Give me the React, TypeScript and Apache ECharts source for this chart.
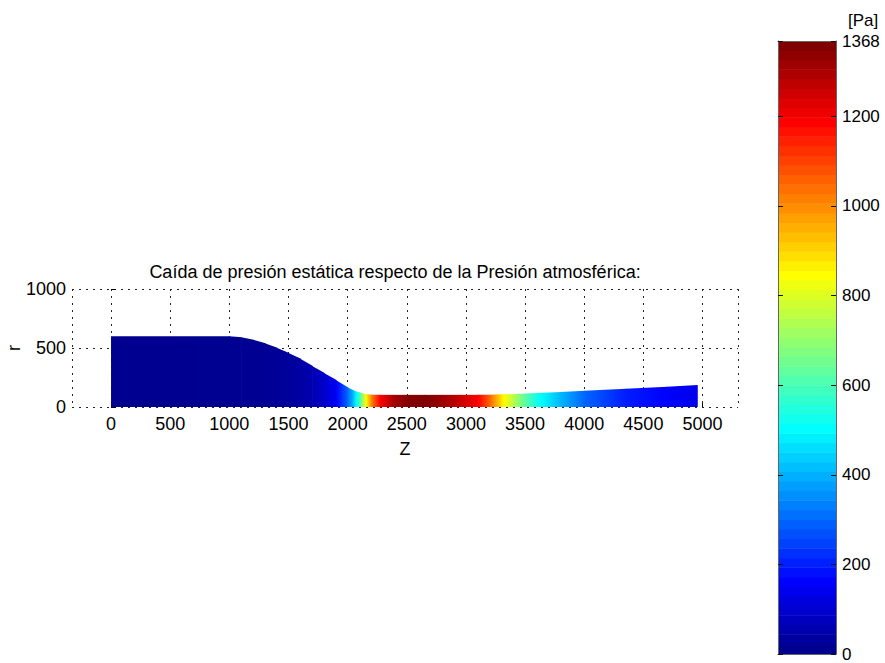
import React, { useEffect, useRef } from "react";
import * as echarts from "echarts";

// Axial stations along the duct (Z) and the wall radius r at each station
const Z_STATIONS = [
  0, 1000, 1100, 1200, 1300, 1400, 1500, 1600, 1700, 1800, 1900, 2000, 2050,
  2100, 2150, 2200, 2270, 2380, 2500, 2650, 2800, 2950, 3100, 3200, 3300,
  3450, 3600, 3800, 4000, 4350, 4700, 4960,
];
const R_PROFILE = [
  600, 600, 592, 570, 540, 503, 458, 408, 348, 288, 228, 165, 140, 122, 110,
  104, 103, 103, 103, 103, 103, 103, 103, 104, 107, 112, 119, 128, 138, 155,
  172, 186,
];
// Static pressure drop relative to atmospheric pressure [Pa] at each station
const P_DROP = [
  0, 2, 3, 5, 8, 12, 18, 28, 45, 80, 140, 300, 420, 600, 830, 1020, 1190,
  1310, 1360, 1368, 1330, 1270, 1200, 1060, 880, 680, 520, 400, 290, 190, 150,
  125,
];

const P_MAX = 1368;
const CBAR_INTERVAL = 200;
const CMAP_SIZE = 64;

const TITLE = "Caída de presión estática respecto de la Presión atmosférica:";
const UNIT_LABEL = "[Pa]";
const X_NAME = "Z";
const Y_NAME = "r";

const FONT = '"Liberation Sans", Arial, Helvetica, sans-serif';
const FS = 18;
const FS_CBAR = 17;

// MATLAB-style jet colormap evaluated at t in (0, 1]
function jetAt(t: number): string {
  const c = (x: number) => Math.max(0, Math.min(1, x));
  const r = c(1.5 - Math.abs(4 * t - 3));
  const g = c(1.5 - Math.abs(4 * t - 2));
  const b = c(1.5 - Math.abs(4 * t - 1));
  return `rgb(${Math.round(r * 255)},${Math.round(g * 255)},${Math.round(b * 255)})`;
}

// Map a pressure value onto the 64-entry jet colormap (continuous)
function pressureColor(p: number): string {
  const v = Math.max(0, Math.min(1, p / P_MAX));
  return jetAt((1 + v * (CMAP_SIZE - 1)) / CMAP_SIZE);
}

const plain = (v: number) => String(v);

export default function App() {
  const ref = useRef<HTMLDivElement>(null);

  useEffect(() => {
    if (!ref.current) return;
    const chart = echarts.init(ref.current, null, { renderer: "svg" });

    const segments = Z_STATIONS.slice(0, -1).map((z, i) => [
      z,
      Z_STATIONS[i + 1],
      R_PROFILE[i],
      R_PROFILE[i + 1],
      P_DROP[i],
      P_DROP[i + 1],
    ]);
    const nSeg = segments.length;

    const bands = Array.from({ length: CMAP_SIZE }, (_, i) => [
      (i / CMAP_SIZE) * P_MAX,
      ((i + 1) / CMAP_SIZE) * P_MAX,
      i,
    ]);

    const labelStyle = { color: "#000", fontSize: FS, fontFamily: FONT };
    const cbarLabelStyle = { color: "#000", fontSize: FS_CBAR, fontFamily: FONT, lineHeight: FS_CBAR };
    const dotted = { color: "#222", width: 1, type: [2, 5] as number[] };
    const boxLine = { show: true, onZero: false, lineStyle: { color: "#666", width: 1 } };

    const option: any = {
      animation: false,
      backgroundColor: "#fff",
      textStyle: { fontFamily: FONT },
      graphic: [
        {
          type: "text",
          x: 395,
          y: 272,
          style: {
            text: TITLE,
            fill: "#000",
            fontSize: FS,
            fontFamily: FONT,
            align: "center",
            verticalAlign: "middle",
          },
        },
        {
          type: "text",
          x: 14,
          y: 348,
          rotation: Math.PI / 2,
          style: {
            text: Y_NAME,
            fill: "#000",
            fontSize: FS,
            fontFamily: FONT,
            align: "center",
            verticalAlign: "middle",
          },
        },
        {
          type: "text",
          x: 848,
          y: 20,
          style: {
            text: UNIT_LABEL,
            fill: "#000",
            fontSize: FS_CBAR,
            fontFamily: FONT,
            align: "left",
            verticalAlign: "middle",
          },
        },
      ],
      grid: [
        { left: 72, right: 147, top: 289, height: 118, containLabel: false, outerBoundsMode: "none" },
        { left: 778, width: 58, top: 41, bottom: 9, containLabel: false, outerBoundsMode: "none" },
      ],
      xAxis: [
        {
          gridIndex: 0,
          type: "value",
          min: -330,
          max: 5300,
          splitNumber: 11,
          name: X_NAME,
          nameLocation: "middle",
          nameGap: 33,
          nameMoveOverlap: false,
          nameTextStyle: labelStyle,
          axisLine: { show: false },
          axisTick: { show: true, inside: true, length: 4, lineStyle: { color: "#000" } },
          axisLabel: {
            ...labelStyle,
            margin: 8,
            showMinLabel: false,
            showMaxLabel: false,
            formatter: plain,
          },
          splitLine: { show: true, lineStyle: dotted },
        },
        {
          gridIndex: 1,
          type: "value",
          min: 0,
          max: 1,
          position: "bottom",
          axisLine: boxLine,
          axisTick: { show: false },
          axisLabel: { show: false },
          splitLine: { show: false },
          z: 10,
        },
        {
          gridIndex: 1,
          type: "value",
          min: 0,
          max: 1,
          position: "top",
          axisLine: boxLine,
          axisTick: { show: false },
          axisLabel: { show: false },
          splitLine: { show: false },
          z: 10,
        },
      ],
      yAxis: [
        {
          gridIndex: 0,
          type: "value",
          min: 0,
          max: 1000,
          interval: 500,
          axisLine: { show: false },
          axisTick: { show: true, inside: true, length: 5, lineStyle: { color: "#000" } },
          axisLabel: { ...labelStyle, margin: 6, formatter: plain },
          splitLine: { show: true, lineStyle: dotted },
        },
        {
          gridIndex: 1,
          type: "value",
          min: 0,
          max: P_MAX,
          interval: CBAR_INTERVAL,
          position: "right",
          axisLine: boxLine,
          axisTick: { show: true, inside: true, length: 5, lineStyle: { color: "#111" } },
          axisLabel: { ...cbarLabelStyle, margin: 6, formatter: plain },
          splitLine: { show: false },
          z: 10,
        },
        {
          gridIndex: 1,
          type: "value",
          min: 0,
          max: P_MAX,
          interval: CBAR_INTERVAL,
          position: "left",
          axisLine: boxLine,
          axisTick: { show: true, inside: true, length: 5, lineStyle: { color: "#111" } },
          axisLabel: { show: false },
          splitLine: { show: false },
          z: 10,
        },
      ],
      series: [
        {
          type: "custom",
          xAxisIndex: 0,
          yAxisIndex: 0,
          data: segments,
          encode: { x: [0, 1], y: [2, 3] },
          renderItem: (params: any, api: any) => {
            const z0 = api.value(0);
            const z1 = api.value(1);
            const r0 = api.value(2);
            const r1 = api.value(3);
            const p0 = api.value(4);
            const p1 = api.value(5);
            const a = api.coord([z0, 0]);
            const b = api.coord([z1, 0]);
            const c = api.coord([z1, r1]);
            const d = api.coord([z0, r0]);
            const ov = params.dataIndex < nSeg - 1 ? 0.7 : 0;
            const stops = [];
            for (let k = 0; k <= 8; k++) {
              const f = k / 8;
              stops.push({ offset: f, color: pressureColor(p0 + (p1 - p0) * f) });
            }
            return {
              type: "polygon",
              shape: {
                points: [
                  [a[0], a[1]],
                  [b[0] + ov, b[1]],
                  [c[0] + ov, c[1]],
                  [d[0], d[1]],
                ],
              },
              style: { fill: new echarts.graphic.LinearGradient(0, 0, 1, 0, stops) },
            };
          },
        },
        {
          type: "custom",
          xAxisIndex: 1,
          yAxisIndex: 1,
          data: bands,
          encode: { y: [0, 1] },
          renderItem: (params: any, api: any) => {
            const lo = api.value(0);
            const hi = api.value(1);
            const idx = api.value(2);
            const p0 = api.coord([0, lo]);
            const p1 = api.coord([1, hi]);
            const top = params.dataIndex === CMAP_SIZE - 1 ? 0 : 0.5;
            return {
              type: "rect",
              shape: {
                x: p0[0],
                y: p1[1] - top,
                width: p1[0] - p0[0],
                height: p0[1] - p1[1] + top,
              },
              style: { fill: jetAt((idx + 1) / CMAP_SIZE) },
            };
          },
        },
      ],
    };

    chart.setOption(option);
    return () => chart.dispose();
  }, []);

  return (
    <div
      ref={ref}
      style={{ position: "fixed", left: 0, top: 0, width: 885, height: 663, background: "#fff" }}
    />
  );
}
